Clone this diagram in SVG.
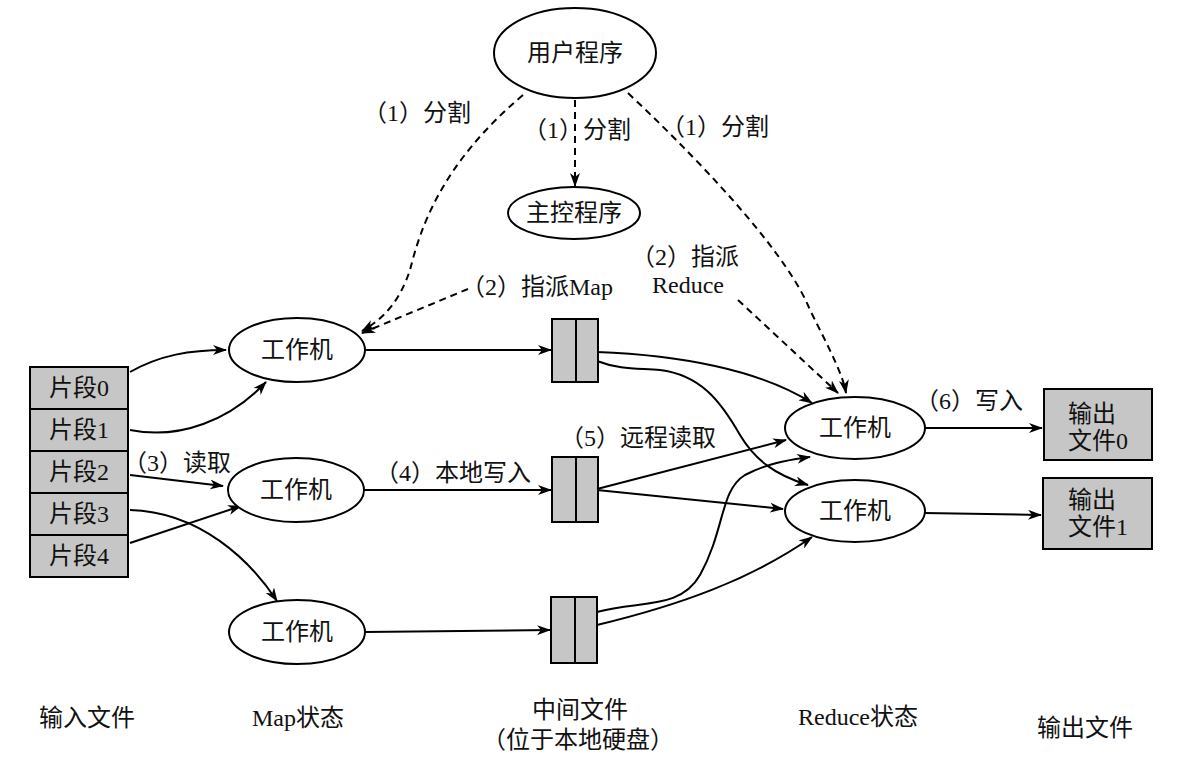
<svg xmlns="http://www.w3.org/2000/svg" width="1185" height="758" viewBox="0 0 1185 758">
<style>
.n{fill:#fff;stroke:#000;stroke-width:2}
.b{fill:#c6c6c6;stroke:#000;stroke-width:2}
.t{font-family:"Liberation Serif","Noto Sans CJK SC",serif;font-size:24px;fill:#111}
.l{font-family:"Liberation Serif","Noto Sans CJK SC",serif;font-size:24px;fill:#111}
.c{text-anchor:middle;dominant-baseline:central}
.s{dominant-baseline:central}
.e{fill:none;stroke:#000;stroke-width:2;marker-end:url(#ah)}
.d{fill:none;stroke:#000;stroke-width:2;stroke-dasharray:7,5;marker-end:url(#ah)}
</style>
<defs>
<marker id="ah" markerWidth="14" markerHeight="10" refX="13" refY="5" orient="auto" markerUnits="userSpaceOnUse">
<path d="M0,0 L14,5 L0,10 L4,5 z" fill="#000"/>
</marker>
</defs>
<rect width="1185" height="758" fill="#fff"/>

<g id="connectors">
<path class="d" d="M575,100 L575,186"/>
<path class="d" d="M523,95 C440,165 420,230 410,270 C400,300 385,318 362,331"/>
<path class="d" d="M468,289 L362,333"/>
<path class="d" d="M628,93 C720,180 790,260 810,310 C830,350 843,375 846,393"/>
<path class="d" d="M738,300 L838,393"/>
<path class="e" d="M130,372 C160,355 190,350 226,350"/>
<path class="e" d="M130,430 C180,440 230,420 266,382"/>
<path class="e" d="M130,475 L223,486"/>
<path class="e" d="M130,543 L241,506"/>
<path class="e" d="M130,510 C200,512 250,560 277,601"/>
<path class="e" d="M366,350 L551,350"/>
<path class="e" d="M364,490 L551,490"/>
<path class="e" d="M365,632 L550,630"/>
<path class="e" d="M597,352 C680,355 760,370 812,403"/>
<path class="e" d="M597,361 C620,370 640,368 660,370 C700,375 720,400 740,435 C755,460 775,475 808,485"/>
<path class="e" d="M597,489 L786,440"/>
<path class="e" d="M597,490 L783,509"/>
<path class="e" d="M597,612 C640,600 680,610 700,575 C725,530 720,490 745,475 C770,462 790,460 810,457"/>
<path class="e" d="M597,625 C680,605 750,580 812,537"/>
<path class="e" d="M924,428 L1042,428"/>
<path class="e" d="M924,513 L1041,515"/>
</g>

<g id="user-program"><ellipse class="n" cx="575" cy="53" rx="81" ry="45"/><text class="t c" x="575" y="53">用户程序</text></g>
<g id="master"><ellipse class="n" cx="574" cy="213" rx="66" ry="26"/><text class="t c" x="574" y="213">主控程序</text></g>

<g id="input-files">
<rect class="b" x="30" y="367" width="98" height="42"/><text class="t c" x="79" y="388">片段0</text>
<rect class="b" x="30" y="409" width="98" height="42"/><text class="t c" x="79" y="430">片段1</text>
<rect class="b" x="30" y="451" width="98" height="42"/><text class="t c" x="79" y="472">片段2</text>
<rect class="b" x="30" y="493" width="98" height="42"/><text class="t c" x="79" y="514">片段3</text>
<rect class="b" x="30" y="535" width="98" height="42"/><text class="t c" x="79" y="556">片段4</text>
</g>

<g id="map-worker-1"><ellipse class="n" cx="297" cy="350" rx="68" ry="32"/><text class="t c" x="297" y="350">工作机</text></g>
<g id="map-worker-2"><ellipse class="n" cx="296" cy="490" rx="68" ry="32"/><text class="t c" x="296" y="490">工作机</text></g>
<g id="map-worker-3"><ellipse class="n" cx="297" cy="632" rx="68" ry="32"/><text class="t c" x="297" y="632">工作机</text></g>

<g id="intermediate-1"><rect class="b" x="552" y="319" width="46" height="63"/><line x1="576" y1="319" x2="576" y2="382" stroke="#000" stroke-width="2"/></g>
<g id="intermediate-2"><rect class="b" x="552" y="457" width="46" height="65"/><line x1="576" y1="457" x2="576" y2="522" stroke="#000" stroke-width="2"/></g>
<g id="intermediate-3"><rect class="b" x="551" y="597" width="46" height="66"/><line x1="575" y1="597" x2="575" y2="663" stroke="#000" stroke-width="2"/></g>

<g id="reduce-worker-1"><ellipse class="n" cx="855" cy="428" rx="70" ry="31"/><text class="t c" x="855" y="428">工作机</text></g>
<g id="reduce-worker-2"><ellipse class="n" cx="855" cy="511" rx="70" ry="31"/><text class="t c" x="855" y="511">工作机</text></g>

<g id="output-0"><rect class="b" x="1044" y="389" width="108" height="71"/><text class="t s" x="1068" y="414">输出</text><text class="t s" x="1068" y="441">文件0</text></g>
<g id="output-1"><rect class="b" x="1043" y="478" width="109" height="71"/><text class="t s" x="1068" y="500">输出</text><text class="t s" x="1068" y="527">文件1</text></g>

<g id="labels">
<text class="l s" x="363" y="113">（1）分割</text>
<text class="l s" x="523" y="130">（1）分割</text>
<text class="l s" x="661" y="127">（1）分割</text>
<text class="l s" x="631" y="257">（2）指派</text>
<text class="l s" x="652" y="285">Reduce</text>
<text class="l s" x="461" y="287">（2）指派Map</text>
<text class="l s" x="123" y="463">（3）读取</text>
<text class="l s" x="375" y="473">（4）本地写入</text>
<text class="l s" x="560" y="438">（5）远程读取</text>
<text class="l s" x="915" y="401">（6）写入</text>
<text class="t c" x="87" y="718">输入文件</text>
<text class="t c" x="298" y="718">Map状态</text>
<text class="t c" x="580" y="710">中间文件</text>
<text class="t c" x="578" y="740">（位于本地硬盘）</text>
<text class="t c" x="858" y="717">Reduce状态</text>
<text class="t c" x="1085" y="728">输出文件</text>
</g>
</svg>
